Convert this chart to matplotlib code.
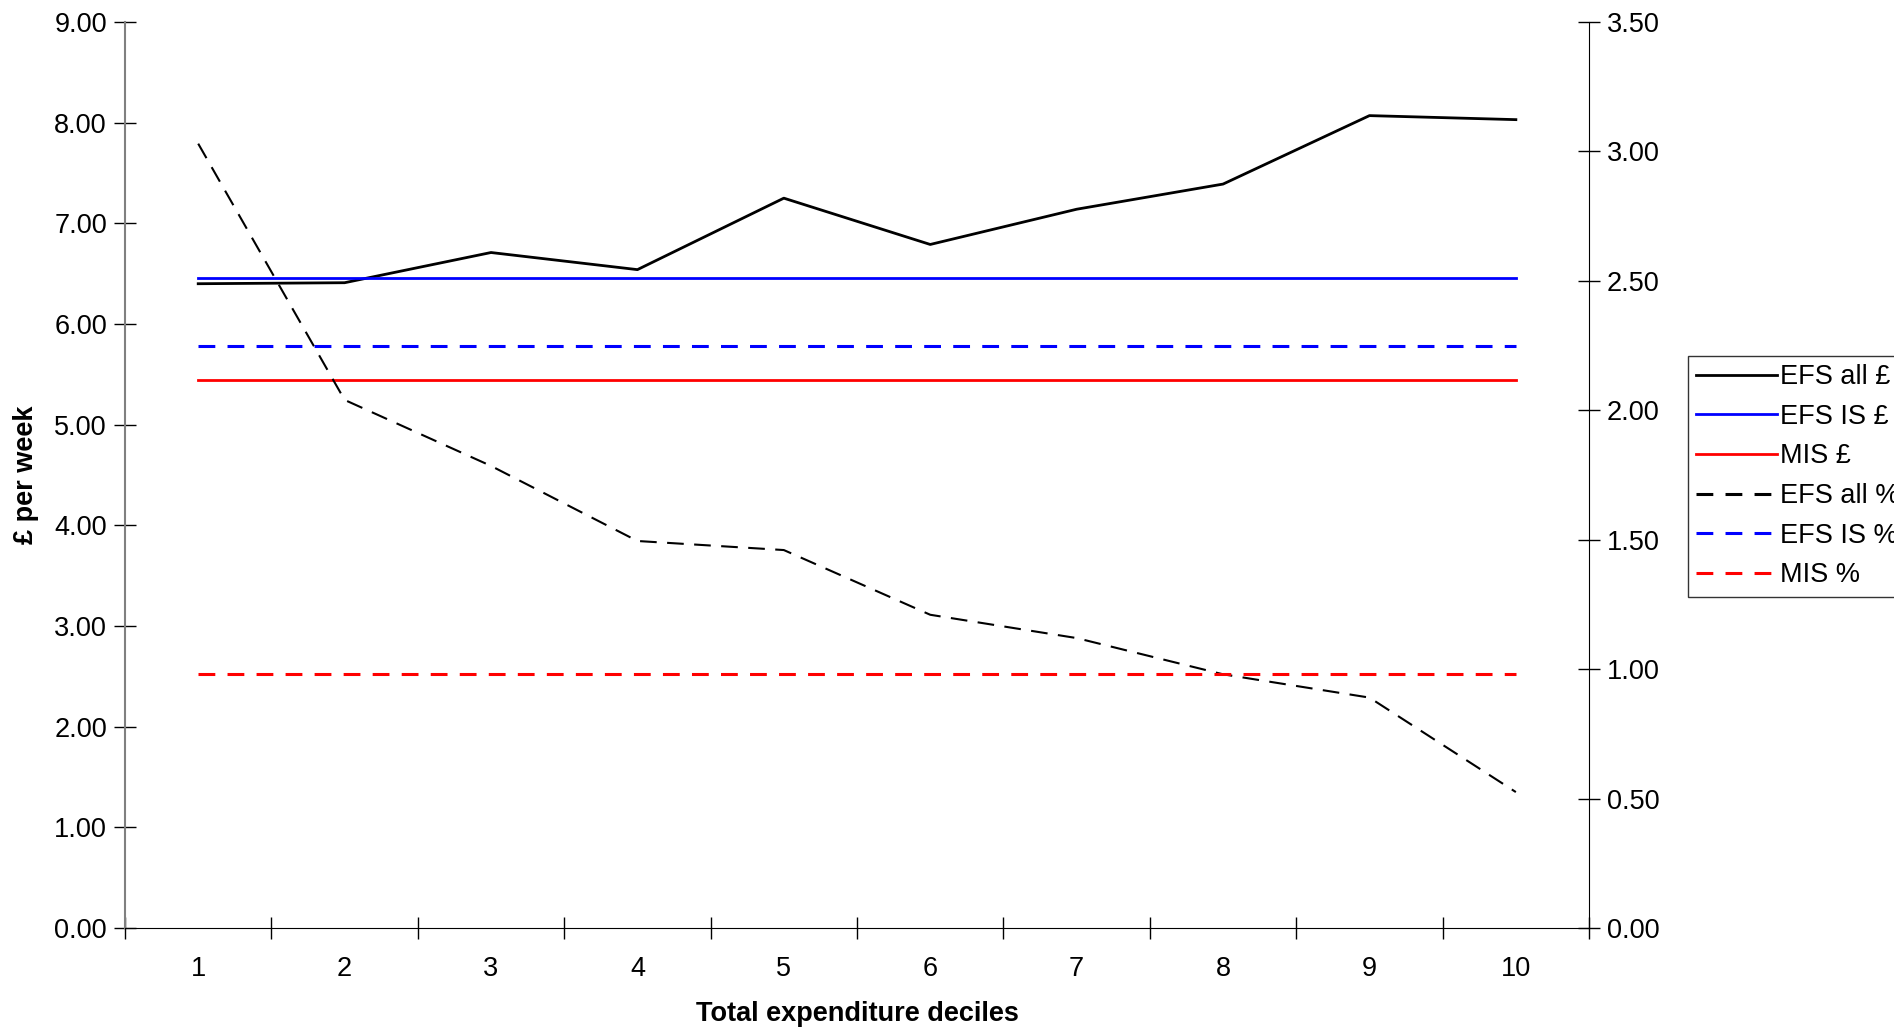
import matplotlib
matplotlib.use("Agg")
import matplotlib.pyplot as plt
import numpy as np

plt.rcParams['font.family'] = ['Liberation Sans', 'DejaVu Sans']

deciles = [1, 2, 3, 4, 5, 6, 7, 8, 9, 10]
efs_all_gbp = [6.40, 6.41, 6.71, 6.54, 7.25, 6.79, 7.14, 7.39, 8.07, 8.03]
efs_is_gbp = [6.46] * 10
mis_gbp = [5.44] * 10
efs_all_pct = [3.03, 2.04, 1.785, 1.495, 1.46, 1.21, 1.12, 0.98, 0.89, 0.525]
efs_is_pct = [2.25] * 10
mis_pct = [0.98] * 10

left_ticks = [0, 1, 2, 3, 4, 5, 6, 7, 8, 9]
right_ticks = [0, 0.5, 1.0, 1.5, 2.0, 2.5, 3.0, 3.5]

FS = 19.5
fig = plt.figure(figsize=(18.94, 10.28), dpi=100)
ax = fig.add_axes([0.066, 0.0973, 0.773, 0.8813])
ax2 = ax.twinx()

l1, = ax.plot(deciles, efs_all_gbp, color='black', lw=2.0, label='EFS all £')
l2, = ax.plot(deciles, efs_is_gbp, color='#0000ff', lw=2.0, label='EFS IS £')
l3, = ax.plot(deciles, mis_gbp, color='#ff0000', lw=2.0, label='MIS £')
l4, = ax2.plot(deciles, efs_all_pct, color='black', lw=1.5, dashes=(8, 5), label='EFS all %')
l5, = ax2.plot(deciles, efs_is_pct, color='#0000ff', lw=2.2, dashes=(5.5, 4), label='EFS IS %')
l6, = ax2.plot(deciles, mis_pct, color='#ff0000', lw=2.2, dashes=(5.5, 4), label='MIS %')

ax.set_xlim(0.5, 10.5)
ax.set_ylim(0, 9)
ax2.set_ylim(0, 3.5)
ax.set_yticks(left_ticks)
ax.set_yticklabels([f"{v:.2f}" for v in left_ticks], fontsize=FS)
ax2.set_yticks(right_ticks)
ax2.set_yticklabels([f"{v:.2f}" for v in right_ticks], fontsize=FS)
ax.set_xticks(deciles)
ax.set_xticklabels([str(d) for d in deciles], fontsize=FS)
ax.set_xticks(np.arange(0.5, 11, 1), minor=True)
ax.tick_params(axis='x', which='major', length=0, pad=20)
ax.tick_params(axis='x', which='minor', direction='inout', length=16, width=1)
ax.tick_params(axis='y', direction='inout', length=16, width=1, pad=5)
ax2.tick_params(axis='y', direction='inout', length=16, width=1, pad=5)

for a in (ax, ax2):
    a.spines['top'].set_visible(False)
    a.set_facecolor('none')
ax2.spines['left'].set_visible(False)
ax2.spines['bottom'].set_visible(False)
ax.spines['right'].set_visible(False)
ax.spines['left'].set_color('#808080')
ax.spines['left'].set_linewidth(1.5)
ax.spines['bottom'].set_color('black')
ax2.spines['right'].set_color('black')

ax.set_xlabel('Total expenditure deciles', fontsize=FS, fontweight='bold', labelpad=14)
ax.set_ylabel('£ per week', fontsize=FS, fontweight='bold', labelpad=11)

h4 = plt.Line2D([], [], color='black', lw=2.2, dashes=(5.5, 4))
leg = fig.legend(handles=[l1, l2, l3, h4, l5, l6],
                 labels=['EFS all £', 'EFS IS £', 'MIS £', 'EFS all %', 'EFS IS %', 'MIS %'],
                 loc='upper left',
                 bbox_to_anchor=(0.891, 0.654), fontsize=FS, frameon=True,
                 fancybox=False, edgecolor='black', handlelength=3.0,
                 handletextpad=0.1, labelspacing=0.5, borderpad=0.32,
                 borderaxespad=0)
leg.get_frame().set_linewidth(1.0)

fig.savefig('out.png', dpi=100)
